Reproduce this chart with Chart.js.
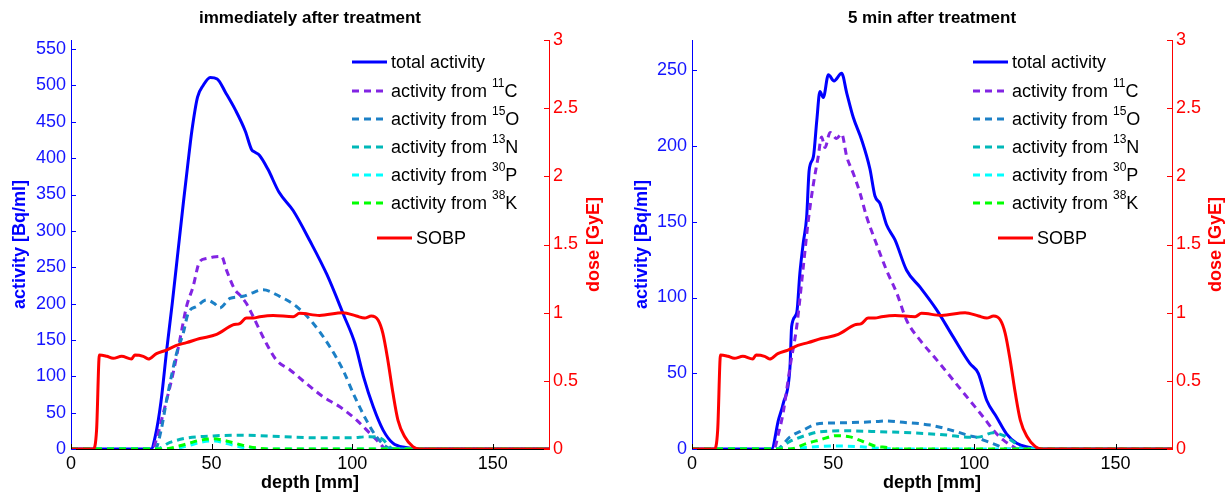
<!DOCTYPE html>
<html>
<head>
<meta charset="utf-8">
<title>activity and dose vs depth</title>
<script src="https://cdn.jsdelivr.net/npm/chart.js@4.4.0/dist/chart.umd.min.js"></script>
<style>
  html, body { margin: 0; padding: 0; background: #fff; }
  #wrap { position: relative; width: 1229px; height: 495px; }
  .panel { position: absolute; top: 0; height: 495px; }
  #panelA { left: 0; width: 615px; }
  #panelB { left: 615px; width: 614px; }
</style>
</head>
<body>
<div id="wrap">
  <div class="panel" id="panelA"><canvas id="chartA"></canvas></div>
  <div class="panel" id="panelB"><canvas id="chartB"></canvas></div>
</div>
<script>
// axis ticks
const depthTicks = [0, 50, 100, 150];
const doseTicks = [0, 0.5, 1, 1.5, 2, 2.5, 3];
const activityTicksA = [0, 50, 100, 150, 200, 250, 300, 350, 400, 450, 500, 550];
const activityTicksB = [0, 50, 100, 150, 200, 250];

// isotopes: mass number, symbol
const isotopes = [['11', 'C'], ['15', 'O'], ['13', 'N'], ['30', 'P'], ['38', 'K']];

// SOBP dose [GyE] (same plan for both panels)
const sobpDepth = [0, 7.9, 9.1, 10.1, 12.7, 15, 18, 21.5, 22.7, 25.7, 27.5, 30.4, 34, 37.5, 41.1, 45.8, 51.8, 57.6, 60, 62.4, 64.8, 67.1, 71.9, 79, 81.3, 88.4, 96.7, 101.5, 104.4, 106.8, 109.2, 110.9, 112.7, 114.5, 116.3, 118.7, 121.6, 124, 170];
const sobpDose = [0, 0, 0.14, 0.69, 0.68, 0.665, 0.68, 0.66, 0.69, 0.68, 0.66, 0.70, 0.726, 0.76, 0.78, 0.81, 0.84, 0.91, 0.92, 0.96, 0.96, 0.97, 0.98, 0.97, 0.995, 0.98, 1.0, 0.975, 0.96, 0.975, 0.946, 0.85, 0.65, 0.41, 0.21, 0.09, 0.017, 0, 0];

// immediately after treatment [Bq/ml]
const totDepthA = [0, 28.5, 30, 32, 34, 36, 38, 40, 41.5, 43, 45, 47, 49.5, 52, 55, 58.5, 62, 64.2, 65.5, 67, 70, 74, 79, 85, 91, 97, 101, 104, 107.5, 111, 114.5, 119, 124, 170];
const totA = [0, 0, 18, 65, 135, 200, 270, 340, 390, 438, 484, 500, 511, 509, 490, 466, 437, 412, 408, 404, 385, 353, 328, 286, 240, 184, 145, 100, 58, 26, 8, 2, 0, 0];
const c11DepthA = [0, 29, 30.5, 32.8, 36.3, 38.7, 41.1, 43.4, 45.8, 48.2, 50.6, 53.5, 55.3, 58.3, 60, 62.4, 64.8, 69.5, 73.1, 77.8, 83.7, 89.6, 95.6, 101.5, 106.2, 109.8, 112, 170];
const c11A = [0, 0, 15, 49, 104, 150, 196, 223, 258, 262, 264, 265, 246, 219, 212, 200, 182, 145, 122, 109, 90, 72, 58, 40, 22, 8, 0, 0];
const o15DepthA = [0, 30, 32, 34, 37.5, 39.9, 41.7, 44.7, 48.2, 51, 52.9, 56.5, 61.2, 64, 68.3, 74.2, 80.2, 86.1, 92, 96.7, 100.9, 105, 108.6, 112.1, 114, 170];
const o15A = [0, 0, 25, 67, 131, 159, 187, 196, 205, 200, 194, 207, 210, 214, 219, 210, 196, 173, 141, 109, 72, 40, 17, 3, 0, 0];
const n13DepthA = [0, 30.4, 35.2, 41.1, 50.6, 61.2, 75.4, 87.3, 99.1, 106.2, 110.9, 113.3, 115, 170];
const n13A = [0, 0, 9, 15, 18, 19, 17, 15.5, 15.5, 17, 13, 3, 0, 0];
const p30DepthA = [0, 36, 41.1, 47, 51.2, 55.9, 61.2, 66, 170];
const p30A = [0, 0, 4, 10, 11, 7, 2, 0, 0];
const k38DepthA = [0, 33, 41.1, 45.8, 50.6, 55.3, 61.2, 66, 70, 170];
const k38A = [0, 0, 7, 12, 14, 11, 5, 1.5, 0, 0];

// 5 min after treatment [Bq/ml]
const totDepthB = [0, 28.2, 30.6, 32.3, 34.7, 35.3, 37.1, 38.2, 39.4, 40.6, 41.5, 43, 44.2, 45.3, 46.5, 48.3, 50.3, 53, 54.8, 57.1, 60.1, 63, 64.8, 66.6, 68.9, 71.9, 76, 80.7, 86.6, 92.5, 98.4, 101.4, 104.4, 107.9, 111.4, 115, 119.7, 122, 170];
const totB = [0, 0, 19, 30, 54, 81, 90, 116, 136, 153, 184, 193, 217, 236, 232, 247, 243, 248, 235, 219, 204, 185, 167, 162, 148, 138, 118, 107, 92, 74, 56.5, 50, 32, 21, 10, 3.8, 1, 0, 0];
const c11DepthB = [0, 29, 30.6, 32.3, 34.7, 37.1, 39.4, 41.2, 43, 44.7, 45.9, 47.1, 48.9, 51.2, 53, 54.8, 57.1, 59.5, 61.9, 64.8, 68.9, 72.5, 76, 80.7, 86.6, 92.5, 98.4, 103.2, 106.7, 110.2, 113.8, 115.5, 170];
const c11B = [0, 0, 10, 24, 54, 81, 120, 151, 175, 193, 206, 199, 209, 205, 208, 193, 182, 169, 153, 138, 118, 103, 85, 72, 59, 45.5, 32, 21, 12.5, 6, 1.5, 0, 0];
const o15DepthB = [0, 30, 34.7, 39.4, 44.2, 53.6, 64.2, 68.9, 74.8, 84.3, 93.7, 98.4, 100.8, 103.2, 107.9, 111.4, 170];
const o15B = [0, 0, 8, 12.5, 16.5, 17.3, 18, 18.5, 17.6, 15.8, 11.4, 8.6, 7.7, 5.9, 2.6, 0, 0];
const n13DepthB = [0, 30, 34.7, 40.6, 45.3, 54.8, 66.6, 81.9, 90.2, 98.4, 102, 106.7, 110.2, 113.8, 117.3, 170];
const n13B = [0, 0, 5, 9.2, 11.4, 12, 11.4, 10.3, 9.2, 7.7, 8, 10.7, 9, 4.8, 0, 0];
const p30DepthB = [0, 35, 40, 50, 60, 66, 75, 170];
const p30B = [0, 0, 1, 2, 1.5, 0.5, 0, 0];
const k38DepthB = [0, 34.7, 40.6, 45.3, 51.2, 55.9, 60.7, 65.4, 69, 72, 170];
const k38B = [0, 0, 3.7, 6, 8.8, 8, 4.8, 1.7, 1, 0, 0];

const FONT = '"Liberation Sans", Arial, Helvetica, sans-serif';
Chart.defaults.font.family = FONT;

const isoColors = ['#8224e3', '#1c80c6', '#00b8b8', '#00ffff', '#00ff00'];
const legendRows = [22, 51, 79, 107, 135, 163, 198];

function pts(depth, vals) {
  return depth.map((d, i) => ({ x: d, y: vals[i] }));
}

// plain tick text: 3, 2.5, 2 ... (no trailing zeros)
const plain = v => String(v);

// inward tick marks, upright dose title and the legend with superscripts
const axesDeco = {
  id: 'axesDeco',
  afterDraw(chart, args, opts) {
    const { ctx, chartArea: a, scales } = chart;
    ctx.save();
    ctx.lineWidth = 1;
    ctx.strokeStyle = '#000';
    scales.x.ticks.forEach(t => {
      const px = Math.round(scales.x.getPixelForValue(t.value)) + 0.5;
      ctx.beginPath(); ctx.moveTo(px, a.bottom); ctx.lineTo(px, a.bottom - 5); ctx.stroke();
    });
    ctx.strokeStyle = '#0000ff';
    scales.y.ticks.forEach(t => {
      const py = Math.round(scales.y.getPixelForValue(t.value)) + 0.5;
      ctx.beginPath(); ctx.moveTo(a.left, py); ctx.lineTo(a.left + 5, py); ctx.stroke();
    });
    ctx.strokeStyle = '#ff0000';
    scales.y1.ticks.forEach(t => {
      const py = Math.round(scales.y1.getPixelForValue(t.value)) + 0.5;
      ctx.beginPath(); ctx.moveTo(a.right, py); ctx.lineTo(a.right - 5, py); ctx.stroke();
    });

    ctx.save();
    ctx.translate(opts.doseTitleX, (a.top + a.bottom) / 2);
    ctx.rotate(-Math.PI / 2);
    ctx.fillStyle = '#ff0000';
    ctx.font = 'bold 18px ' + FONT;
    ctx.textAlign = 'center';
    ctx.textBaseline = 'middle';
    ctx.fillText('dose [GyE]', 0, 0);
    ctx.restore();

    const x0 = a.right - opts.legendRight;
    ctx.textBaseline = 'middle';
    ctx.textAlign = 'left';
    chart.data.datasets.forEach(ds => {
      const y = a.top + legendRows[ds.legendRow];
      const indent = ds.yAxisID === 'y1' ? 25 : 0;
      ctx.strokeStyle = ds.borderColor;
      ctx.lineWidth = 3;
      ctx.setLineDash(ds.borderDash || []);
      ctx.beginPath(); ctx.moveTo(x0 + indent, y); ctx.lineTo(x0 + indent + 35, y); ctx.stroke();
      ctx.setLineDash([]);
      let tx = x0 + indent + 39;
      ctx.fillStyle = '#000';
      ds.labelParts.forEach((part, k) => {
        const sup = k === 1;
        ctx.font = (sup ? '12px ' : '18px ') + FONT;
        ctx.fillText(part, tx, sup ? y - 7 : y + 1);
        tx += ctx.measureText(part).width;
      });
    });
    ctx.restore();
  }
};

function makeChart(id, p) {
  const series = [
    [p.tot[0], p.tot[1]],
    [p.c11[0], p.c11[1]],
    [p.o15[0], p.o15[1]],
    [p.n13[0], p.n13[1]],
    [p.p30[0], p.p30[1]],
    [p.k38[0], p.k38[1]]
  ];
  const datasets = [{
    label: 'SOBP',
    labelParts: ['SOBP'],
    legendRow: 6,
    data: pts(sobpDepth, sobpDose),
    yAxisID: 'y1',
    borderColor: '#ff0000',
    borderWidth: 3,
    order: 0
  }];
  series.forEach((s, i) => {
    const iso = i > 0 ? isotopes[i - 1] : null;
    datasets.push({
      label: iso ? 'activity from ' + iso[0] + iso[1] : 'total activity',
      labelParts: iso ? ['activity from ', iso[0], iso[1]] : ['total activity'],
      legendRow: i,
      data: pts(s[0], s[1]),
      yAxisID: 'y',
      borderColor: iso ? isoColors[i - 1] : '#0000ff',
      borderWidth: 3,
      borderDash: iso ? [7, 5] : [],
      order: 6 - i
    });
  });

  return new Chart(document.getElementById(id), {
    type: 'line',
    data: { datasets },
    plugins: [axesDeco],
    options: {
      responsive: true,
      maintainAspectRatio: false,
      animation: false,
      elements: {
        point: { radius: 0 },
        line: { cubicInterpolationMode: 'monotone' }
      },
      layout: { padding: 0 },
      scales: {
        x: {
          type: 'linear',
          min: 0,
          max: 170,
          afterBuildTicks: s => { s.ticks = depthTicks.map(v => ({ value: v })); },
          afterFit: s => { s.height = 46; },
          grid: { display: false, drawTicks: false },
          border: { color: '#000', width: 1 },
          ticks: { color: '#000', font: { size: 18 }, padding: 4, maxRotation: 0, callback: plain },
          title: { display: true, text: 'depth [mm]', color: '#000', font: { size: 18, weight: 'bold' }, padding: { top: 0, bottom: 1 } }
        },
        y: {
          position: 'left',
          min: 0,
          max: p.activityMax,
          afterBuildTicks: s => { s.ticks = p.activityTicks.map(v => ({ value: v })); },
          afterFit: s => { s.width = p.yWidth; },
          grid: { display: false, drawTicks: false },
          border: { color: '#0000ff', width: 1 },
          ticks: { color: '#1414ff', font: { size: 18 }, padding: 5, callback: plain },
          title: { display: true, text: 'activity [Bq/ml]', color: '#0000ff', font: { size: 18, weight: 'bold' }, padding: { top: p.yTitlePad, bottom: 0 } }
        },
        y1: {
          position: 'right',
          min: 0,
          max: 3,
          afterBuildTicks: s => { s.ticks = doseTicks.map(v => ({ value: v })); },
          afterFit: s => { s.width = p.y1Width; },
          grid: { display: false, drawTicks: false },
          border: { color: '#ff0000', width: 1 },
          ticks: { color: '#ff0000', font: { size: 18 }, padding: 4, callback: plain }
        }
      },
      plugins: {
        legend: { display: false },
        tooltip: { enabled: false },
        title: {
          display: true,
          text: p.title,
          fullSize: false,
          color: '#000',
          font: { size: 17, weight: 'bold' },
          padding: { top: 8, bottom: 11.6 }
        },
        axesDeco: { doseTitleX: p.doseTitleX, legendRight: p.legendRight }
      }
    }
  });
}

makeChart('chartA', {
  title: 'immediately after treatment',
  tot: [totDepthA, totA], c11: [c11DepthA, c11A], o15: [o15DepthA, o15A],
  n13: [n13DepthA, n13A], p30: [p30DepthA, p30A], k38: [k38DepthA, k38A],
  activityMax: 562.5, activityTicks: activityTicksA,
  yWidth: 71, y1Width: 66, yTitlePad: 9, doseTitleX: 594, legendRight: 197
});

makeChart('chartB', {
  title: '5 min after treatment',
  tot: [totDepthB, totB], c11: [c11DepthB, c11B], o15: [o15DepthB, o15B],
  n13: [n13DepthB, n13B], p30: [p30DepthB, p30B], k38: [k38DepthB, k38B],
  activityMax: 270, activityTicks: activityTicksB,
  yWidth: 77, y1Width: 57, yTitlePad: 16, doseTitleX: 601, legendRight: 199
});
</script>
</body>
</html>
